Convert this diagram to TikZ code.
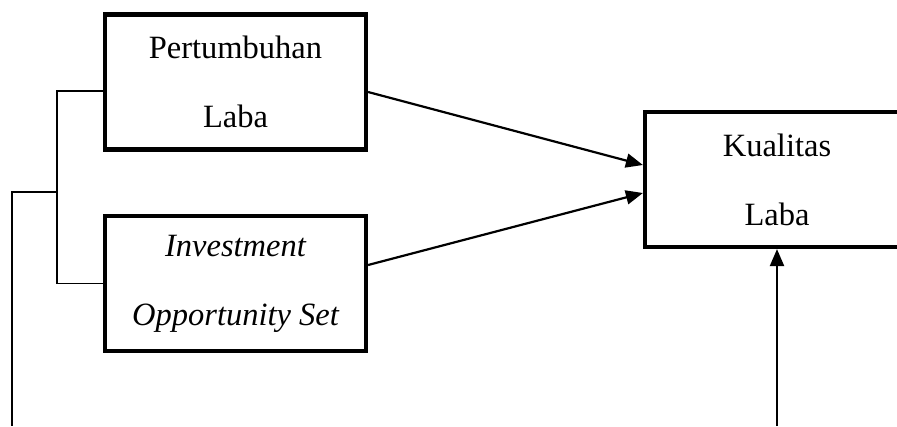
\documentclass[tikz,border=0pt]{standalone}
\usepackage{fontspec}
\setmainfont{Liberation Serif}
\usetikzlibrary{positioning, arrows.meta}

\begin{document}
\begin{tikzpicture}[x=1pt, y=-1pt,
    varbox/.style={draw, line width=4.2pt, rectangle, minimum height=135pt, align=center,
      font=\fontsize{32.5}{69}\selectfont},
    link/.style={line width=1.4pt},
    arr/.style={line width=2.2pt, -{Triangle[length=17pt,width=14pt]}}]
          \useasboundingbox (0,0) rectangle (897,426);
          \node[varbox, minimum width=261pt] (pl) at (235.5,82) {Pertumbuhan\\Laba};
          \node[varbox, minimum width=261pt] (ios) at (235.5,283.5) {\itshape Investment\\\itshape Opportunity Set};
          \node[varbox, minimum width=264pt] (kl) at (777,179.5) {Kualitas\\Laba};
          \coordinate (jn) at (57,192);
          \coordinate (lt) at (12,192);
          \coordinate (lb) at (12,426);
          \coordinate (bt) at (777,426);
          \draw[link] ([yshift=-9pt]pl.west) -| (jn) |- (ios.west);
          \draw[link] (jn) -- (lt) -- (lb);
          \draw[arr] ([yshift=-10pt]pl.east) -- ([yshift=14.5pt]kl.west);
          \draw[arr] ([yshift=18.5pt]ios.east) -- ([yshift=-13.5pt]kl.west);
          \draw[arr] (bt) -- (kl.south);
      \end{tikzpicture}
\end{document}
